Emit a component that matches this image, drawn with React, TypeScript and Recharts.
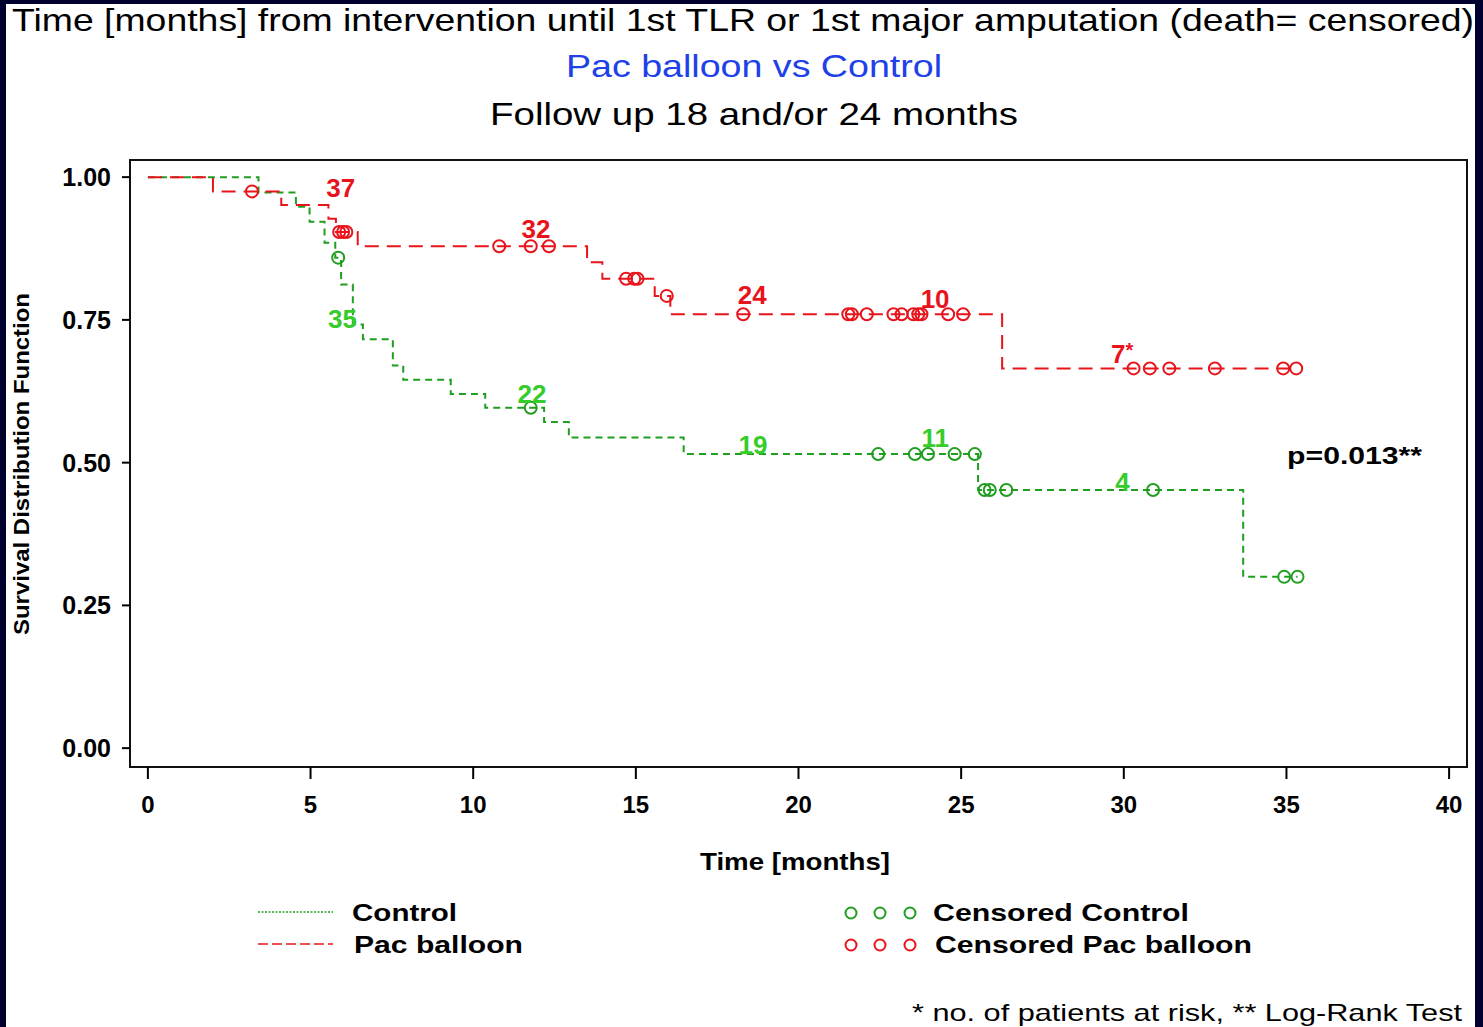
import React from "react";
import {
  ComposedChart,
  Line,
  Scatter,
  XAxis,
  YAxis,
  ReferenceArea,
  ReferenceDot,
} from "recharts";

// Kaplan-Meier steps (time in months, survival); last entry = end of follow-up
const pacTimes = [0, 2.0, 4.1, 5.55, 5.78, 6.45, 13.5, 13.97, 15.58, 16.06, 26.26, 35.35];
const pacSurvival = [1.0, 0.975, 0.951, 0.927, 0.904, 0.879, 0.851, 0.822, 0.792, 0.76, 0.665, 0.665];

const controlTimes = [
  0, 3.4, 4.55, 4.97, 5.43, 5.76, 5.94, 6.3, 6.61, 7.53, 7.85, 9.31, 10.37, 12.18, 12.94,
  16.47, 25.52, 33.67, 35.34,
];
const controlSurvival = [
  1.0, 0.973, 0.948, 0.922, 0.885, 0.859, 0.812, 0.742, 0.716, 0.67, 0.645, 0.62, 0.596,
  0.571, 0.544, 0.515, 0.452, 0.3, 0.3,
];

// censoring times
const pacCensored = [
  3.2, 5.88, 6.0, 6.1, 10.8, 11.77, 12.33, 14.7, 14.95, 15.05, 15.95, 18.3, 21.53, 21.64,
  22.1, 22.92, 23.17, 23.53, 23.68, 23.78, 24.6, 25.06, 30.3, 30.8, 31.4, 32.8, 34.9, 35.3,
];
const controlCensored = [
  5.85, 11.77, 22.45, 23.58, 23.98, 24.8, 25.42, 25.72, 25.88, 26.39, 30.9, 34.93, 35.34,
];

// numbers at risk, placed in data coordinates
const pacRiskText = ["37", "32", "24", "10", "7"];
const pacRiskT = [5.93, 11.93, 18.58, 24.2, 29.95];
const pacRiskS = [0.982, 0.91, 0.794, 0.788, 0.691];

const controlRiskText = ["35", "22", "19", "11", "4"];
const controlRiskT = [5.98, 11.81, 18.6, 24.2, 29.96];
const controlRiskS = [0.752, 0.62, 0.531, 0.543, 0.467];

const xTicks = [0, 5, 10, 15, 20, 25, 30, 35, 40];
const yTicks = [0, 0.25, 0.5, 0.75, 1];

const X_MIN = -0.55;
const X_MAX = 40.55;
const Y_MIN = -0.033;
const Y_MAX = 1.03;

const RED = "#e8141c";
const GREEN_LINE = "#1f9e1f";
const GREEN_TEXT = "#36cc2a";
const FONT = "'Liberation Sans', Arial, sans-serif";

function survAt(times: number[], surv: number[], t: number) {
  let v = surv[0];
  for (let i = 0; i < times.length; i++) if (times[i] <= t) v = surv[i];
  return v;
}

const pacCurve = pacTimes.map((t, i) => ({ t, s: pacSurvival[i] }));
const controlCurve = controlTimes.map((t, i) => ({ t, s: controlSurvival[i] }));
const pacCensorPts = pacCensored.map((t) => ({ t, s: survAt(pacTimes, pacSurvival, t) }));
const controlCensorPts = controlCensored.map((t) => ({
  t,
  s: survAt(controlTimes, controlSurvival, t),
}));

const OpenCircle = (color: string) => (props: any) => (
  <circle cx={props.cx} cy={props.cy} r={6} fill="none" stroke={color} strokeWidth={2} />
);

export default function App() {
  return (
    <div
      style={{
        position: "absolute",
        left: 0,
        top: 0,
        width: 1483,
        height: 1027,
        background: "#01012f",
        overflow: "hidden",
      }}
    >
      <div
        style={{ position: "absolute", left: 6, top: 4, width: 1469, height: 1023, background: "#fff" }}
      />
      <div style={{ position: "absolute", left: 0, top: 0 }}>
        <ComposedChart
          width={1483}
          height={1027}
          margin={{ top: 160, right: 16, bottom: 200, left: 60 }}
        >
          <XAxis
            dataKey="t"
            type="number"
            domain={[X_MIN, X_MAX]}
            ticks={xTicks}
            height={60}
            axisLine={false}
            tickSize={12}
            tickMargin={17}
            tickLine={{ stroke: "#000", strokeWidth: 2 }}
            tick={{ fontSize: 24, fontWeight: 700, fill: "#000", fontFamily: FONT }}
            allowDataOverflow
          />
          <YAxis
            type="number"
            domain={[Y_MIN, Y_MAX]}
            ticks={yTicks}
            width={70}
            axisLine={false}
            tickSize={8}
            tickMargin={11}
            tickLine={{ stroke: "#000", strokeWidth: 2 }}
            tickFormatter={(v: number) => v.toFixed(2)}
            tick={{ fontSize: 25, fontWeight: 700, fill: "#000", fontFamily: FONT }}
            allowDataOverflow
          />
          <ReferenceArea
            x1={X_MIN}
            x2={X_MAX}
            y1={Y_MIN}
            y2={Y_MAX}
            fill="none"
            fillOpacity={0}
            stroke="#111"
            strokeWidth={2}
            ifOverflow="visible"
          />
          <Line
            data={controlCurve}
            dataKey="s"
            type="stepAfter"
            stroke={GREEN_LINE}
            strokeWidth={2}
            strokeDasharray="7 5"
            dot={false}
            isAnimationActive={false}
          />
          <Line
            data={pacCurve}
            dataKey="s"
            type="stepAfter"
            stroke={RED}
            strokeWidth={2}
            strokeDasharray="14 8"
            dot={false}
            isAnimationActive={false}
          />
          <Scatter
            data={controlCensorPts}
            dataKey="s"
            shape={OpenCircle(GREEN_LINE)}
            isAnimationActive={false}
          />
          <Scatter
            data={pacCensorPts}
            dataKey="s"
            shape={OpenCircle(RED)}
            isAnimationActive={false}
          />
          {pacRiskText.map((txt, i) => (
            <ReferenceDot
              key={"pr" + i}
              x={pacRiskT[i]}
              y={pacRiskS[i]}
              r={0}
              ifOverflow="visible"
              shape={(p: any) => (
                <text
                  x={p.cx}
                  y={p.cy}
                  dy="0.36em"
                  textAnchor="middle"
                  fill={RED}
                  fontSize={26}
                  fontWeight={700}
                  fontFamily={FONT}
                >
                  {txt}
                  {i === pacRiskText.length - 1 ? (
                    <tspan fontSize={20} dy={-6}>
                      *
                    </tspan>
                  ) : null}
                </text>
              )}
            />
          ))}
          {controlRiskText.map((txt, i) => (
            <ReferenceDot
              key={"cr" + i}
              x={controlRiskT[i]}
              y={controlRiskS[i]}
              r={0}
              ifOverflow="visible"
              shape={(p: any) => (
                <text
                  x={p.cx}
                  y={p.cy}
                  dy="0.36em"
                  textAnchor="middle"
                  fill={GREEN_TEXT}
                  fontSize={26}
                  fontWeight={700}
                  fontFamily={FONT}
                >
                  {txt}
                </text>
              )}
            />
          ))}
          <ReferenceDot
            x={35.02}
            y={0.512}
            r={0}
            ifOverflow="visible"
            shape={(p: any) => (
              <text
                x={p.cx}
                y={p.cy}
                dy="0.36em"
                fill="#000"
                fontSize={24}
                fontWeight={700}
                fontFamily={FONT}
                textLength={135}
                lengthAdjust="spacingAndGlyphs"
              >
                p=0.013**
              </text>
            )}
          />
        </ComposedChart>
      </div>
      <svg
        width={1483}
        height={1027}
        style={{ position: "absolute", left: 0, top: 0, pointerEvents: "none" }}
        fontFamily={FONT}
      >
        <text x={12} y={31} fontSize={32} fill="#000" textLength={1462} lengthAdjust="spacingAndGlyphs">
          Time [months] from intervention until 1st TLR or 1st major amputation (death= censored)
        </text>
        <text x={566} y={77} fontSize={32} fill="#2040e8" textLength={376} lengthAdjust="spacingAndGlyphs">
          Pac balloon vs Control
        </text>
        <text x={490} y={125} fontSize={32} fill="#000" textLength={528} lengthAdjust="spacingAndGlyphs">
          Follow up 18 and/or 24 months
        </text>
        <text
          transform="translate(29,464) rotate(-90)"
          textAnchor="middle"
          fontSize={22}
          fontWeight={700}
          fill="#000"
          textLength={342}
          lengthAdjust="spacingAndGlyphs"
        >
          Survival Distribution Function
        </text>
        <text x={700} y={870} fontSize={24} fontWeight={700} fill="#000" textLength={190} lengthAdjust="spacingAndGlyphs">
          Time [months]
        </text>

        <line x1={258} x2={333} y1={912} y2={912} stroke={GREEN_LINE} strokeWidth={1.5} strokeDasharray="2 1.5" />
        <text x={352} y={921} fontSize={24} fontWeight={700} fill="#000" textLength={105} lengthAdjust="spacingAndGlyphs">
          Control
        </text>
        <line x1={258} x2={333} y1={944} y2={944} stroke={RED} strokeWidth={1.5} strokeDasharray="10 4" />
        <text x={354} y={953} fontSize={24} fontWeight={700} fill="#000" textLength={169} lengthAdjust="spacingAndGlyphs">
          Pac balloon
        </text>

        {[851, 880, 910].map((cx) => (
          <circle key={"g" + cx} cx={cx} cy={913} r={5.5} fill="none" stroke={GREEN_LINE} strokeWidth={2} />
        ))}
        <text x={933} y={921} fontSize={24} fontWeight={700} fill="#000" textLength={256} lengthAdjust="spacingAndGlyphs">
          Censored Control
        </text>
        {[851, 880, 910].map((cx) => (
          <circle key={"r" + cx} cx={cx} cy={945} r={5.5} fill="none" stroke={RED} strokeWidth={2} />
        ))}
        <text x={935} y={953} fontSize={24} fontWeight={700} fill="#000" textLength={317} lengthAdjust="spacingAndGlyphs">
          Censored Pac balloon
        </text>

        <text x={912} y={1021} fontSize={24} fill="#000" textLength={550} lengthAdjust="spacingAndGlyphs">
          * no. of patients at risk, ** Log-Rank Test
        </text>
      </svg>
    </div>
  );
}
